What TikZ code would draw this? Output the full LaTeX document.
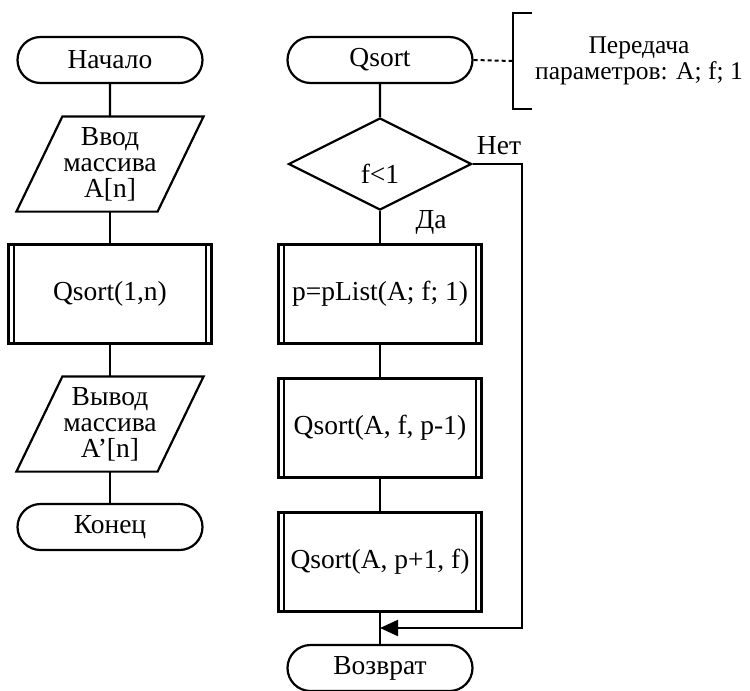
\documentclass[tikz,border=0pt]{standalone}
\usepackage{fontspec}
\setmainfont{Liberation Serif}
\usetikzlibrary{shapes.misc,shapes.geometric,arrows.meta}
\tikzset{
  base/.style={line width=2.2pt, font=\fontsize{27.5}{26}\selectfont, text=black, align=center, inner sep=0pt},
  term/.style={base, draw, rounded rectangle, minimum width=185pt, minimum height=46pt},
  iobox/.style={base, draw=none, minimum width=185pt, minimum height=93pt},
  subr/.style={base, draw, rectangle, minimum width=203pt, minimum height=99pt},
  decis/.style={base, draw, diamond, minimum width=183pt, minimum height=92pt},
  lbl/.style={font=\fontsize{27.5}{26}\selectfont, inner sep=0pt, align=center},
  conn/.style={line width=2.2pt},
  arr/.style={line width=2.2pt, -{Triangle[length=18pt,width=16pt]}},
}
\begin{document}
\begin{tikzpicture}[x=1pt,y=-1pt]
\useasboundingbox (0,0) rectangle (750,691);
% left column
\node[term] (start) at (110,60) {Начало};
\node[iobox] (in1) at (110,164) {Ввод\\массива\\A[n]};
\node[subr] (call1) at (110,294) {Qsort(1,n)};
\node[iobox] (out1) at (110,424) {Вывод\\массива\\A’[n]};
\node[term] (end) at (110,527) {Конец};
% right column
\node[term] (qs) at (380,60) {Qsort};
\node[decis] (dec) at (380,164) {};
\node[lbl] (cond) at ([yshift=-10pt]dec.center) {f<1};
\node[subr] (p1) at (380,294) {p=pList(A; f; 1)};
\node[subr] (p2) at (380,428) {Qsort(A, f, p-1)};
\node[subr] (p3) at (380,562) {Qsort(A, p+1, f)};
\node[term] (ret) at (380,668) {Возврат};
\coordinate (merge) at (380,628);
\coordinate (rt) at (522,628);
% parallelograms
\foreach \n in {in1,out1}{
  \draw[conn, line join=miter] ([xshift=46pt]\n.north west) -- (\n.north east) -- ([xshift=-46pt]\n.south east) -- (\n.south west) -- cycle;
}
% subroutine inner lines
\foreach \n in {call1,p1,p2,p3}{
  \draw[line width=1.8pt] ([xshift=6.5pt]\n.north west) -- ([xshift=6.5pt]\n.south west);
  \draw[line width=1.8pt] ([xshift=-6.5pt]\n.north east) -- ([xshift=-6.5pt]\n.south east);
}
% connectors left
\draw[conn] (start) -- (in1);
\draw[conn] (in1) -- (call1);
\draw[conn] (call1) -- (out1);
\draw[conn] (out1) -- (end);
% connectors right
\draw[conn] (qs) -- (dec);
\draw[conn] (dec) -- (p1);
\draw[conn] (p1) -- (p2);
\draw[conn] (p2) -- (p3);
\draw[conn] (p3) -- (ret);
\draw[arr, line join=miter] (dec.east) -| (rt) -- (merge);
\node[lbl] (no) at (499,146) {Нет};
\node[lbl] (yes) at (431,222) {Да};
% annotation
\coordinate (br) at (513,61);
\draw[line width=2pt, dash pattern=on 4pt off 3pt] (qs.east) -- (br);
\draw[line width=2.2pt, line join=miter] (532,13) -- (513,13) -- (513,109) -- (532,109);
\node[lbl, font=\fontsize{25.5}{26}\selectfont] (ann) at (639,61) {Передача\\параметров: A; f; 1};
\end{tikzpicture}
\end{document}
